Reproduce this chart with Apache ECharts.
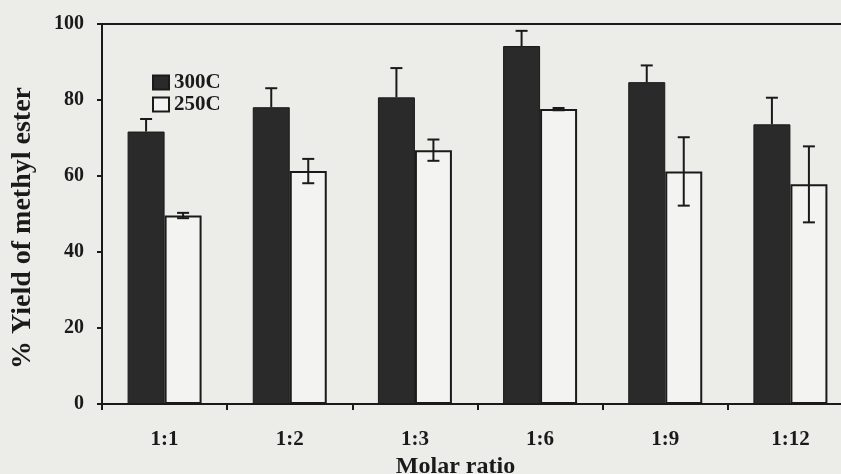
<!DOCTYPE html>
<html>
<head>
<meta charset="utf-8">
<script src="https://cdn.jsdelivr.net/npm/echarts@6/dist/echarts.min.js"></script>
<style>
  html, body { margin: 0; padding: 0; background: #ecece9; }
  #main { width: 841px; height: 474px; }
</style>
</head>
<body>
<div id="main"></div>
<script>
var categories = ['1:1', '1:2', '1:3', '1:6', '1:9', '1:12'];
var yield300 = [71.7, 78.1, 80.7, 94.2, 84.7, 73.6];
var err300 = [3.3, 5.0, 7.7, 4.0, 4.4, 7.0];
var yield250 = [49.6, 61.3, 66.8, 77.6, 61.2, 57.8];
var err250 = [0.7, 3.2, 2.8, 0.3, 9.0, 10.0];

var dom = document.getElementById('main');
var myChart = echarts.init(dom);
var font = '"Liberation Serif", "DejaVu Serif", serif';
var barW = 37;

function errorBar(values, errs, side, twoSided) {
    return function (params, api) {
        var i = params.dataIndex;
        var v = values[i], e = errs[i];
        var base = api.coord([i, v]);
        var x = base[0] + side * barW / 2;
        var top = api.coord([i, v + e])[1];
        var bottom = twoSided ? api.coord([i, v - e])[1] : base[1];
        var cap = 6;
        var style = { stroke: '#1a1a1a', lineWidth: 2 };
        var children = [
            { type: 'line', shape: { x1: x, y1: top, x2: x, y2: bottom }, style: style },
            { type: 'line', shape: { x1: x - cap, y1: top, x2: x + cap, y2: top }, style: style }
        ];
        if (twoSided) {
            children.push({ type: 'line', shape: { x1: x - cap, y1: bottom, x2: x + cap, y2: bottom }, style: style });
        }
        return { type: 'group', children: children };
    };
}

var option = {
    backgroundColor: '#ecece9',
    animation: false,
    grid: {
        left: 102,
        width: 751,
        top: 24,
        bottom: 70,
        outerBoundsMode: 'none',
        containLabel: false,
        show: true,
        borderColor: '#1a1a1a',
        borderWidth: 2,
        backgroundColor: 'transparent'
    },
    legend: {
        data: ['300C', '250C'],
        orient: 'vertical',
        left: 147,
        top: 67,
        itemWidth: 16,
        itemHeight: 14,
        itemGap: 1,
        icon: 'rect',
        textStyle: { fontFamily: font, fontWeight: 'bold', fontSize: 21, color: '#1a1a1a' }
    },
    xAxis: [{
        type: 'category',
        data: categories,
        name: 'Molar ratio',
        nameLocation: 'middle',
        nameGap: 51,
        nameTextStyle: { fontFamily: font, fontWeight: 'bold', fontSize: 24, color: '#1a1a1a', padding: [0, 44, 0, 0] },
        axisLine: { lineStyle: { color: '#1a1a1a', width: 2 } },
        axisTick: { show: true, length: 6, lineStyle: { color: '#1a1a1a', width: 2 } },
        axisLabel: { fontFamily: font, fontWeight: 'bold', fontSize: 21, color: '#1a1a1a', margin: 25 }
    }],
    yAxis: [{
        type: 'value',
        min: 0,
        max: 100,
        interval: 20,
        name: '% Yield of methyl ester',
        nameLocation: 'middle',
        nameGap: 65,
        nameTextStyle: { fontFamily: font, fontWeight: 'bold', fontSize: 28, color: '#1a1a1a', padding: [0, 28, 0, 0] },
        axisLine: { show: true, lineStyle: { color: '#1a1a1a', width: 2 } },
        axisTick: { show: true, length: 5, lineStyle: { color: '#1a1a1a', width: 2 } },
        axisLabel: { fontFamily: font, fontWeight: 'bold', fontSize: 20, color: '#1a1a1a', margin: 18 },
        splitLine: { show: false }
    }],
    series: [{
        name: '300C',
        type: 'bar',
        data: yield300,
        barWidth: barW,
        barGap: '0%',
        itemStyle: { color: '#2a2a2a', borderColor: '#1a1a1a', borderWidth: 1 }
    }, {
        name: '250C',
        type: 'bar',
        data: yield250,
        barWidth: barW,
        barGap: '0%',
        itemStyle: { color: '#f3f3f1', borderColor: '#1a1a1a', borderWidth: 2 }
    }, {
        name: 'err300',
        type: 'custom',
        data: yield300,
        z: 5,
        renderItem: errorBar(yield300, err300, -1, false)
    }, {
        name: 'err250',
        type: 'custom',
        data: yield250,
        z: 5,
        renderItem: errorBar(yield250, err250, 1, true)
    }]
};

if (option && typeof option === 'object') {
    myChart.setOption(option, true);
}
</script>
</body>
</html>
